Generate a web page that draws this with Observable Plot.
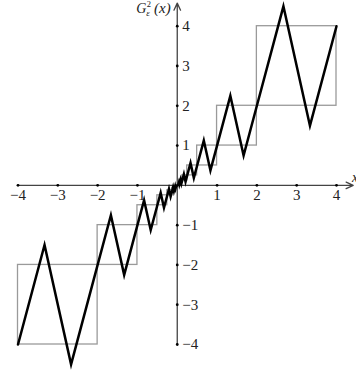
<!DOCTYPE html>
<html>
<head>
<meta charset="utf-8">
<script src="https://cdn.jsdelivr.net/npm/d3@7"></script>
<script src="https://cdn.jsdelivr.net/npm/@observablehq/plot@0.6"></script>
<style>
  html, body { margin: 0; padding: 0; background: white; }
  svg text { font-family: "Liberation Serif", "DejaVu Serif", serif; }
</style>
</head>
<body>
<div id="chart"></div>
<script>
// zigzag G_eps^2(x) vertices
const lineX = [-4, -3.3333, -2.6667, -2, -1.6667, -1.3333, -1, -0.8333, -0.6667, -0.5, -0.4167, -0.3333, -0.25, -0.2083, -0.1667, -0.125, -0.1042, -0.0833, -0.0625, -0.0521, -0.0417, -0.0313, 0,
               0.0313, 0.0417, 0.0521, 0.0625, 0.0833, 0.1042, 0.125, 0.1667, 0.2083, 0.25, 0.3333, 0.4167, 0.5, 0.6667, 0.8333, 1, 1.3333, 1.6667, 2, 2.6667, 3.3333, 4];
const lineY = [-4, -1.5, -4.5, -2, -0.75, -2.25, -1, -0.375, -1.125, -0.5, -0.1875, -0.5625, -0.25, -0.0938, -0.2813, -0.125, -0.0469, -0.1406, -0.0625, -0.0234, -0.0703, -0.0313, 0,
               0.0313, 0.0703, 0.0234, 0.0625, 0.1406, 0.0469, 0.125, 0.2813, 0.0938, 0.25, 0.5625, 0.1875, 0.5, 1.125, 0.375, 1, 2.25, 0.75, 2, 4.5, 1.5, 4];

// gray squares [lo, hi] x [lo, hi]
const boxLo = [0.0625, 0.125, 0.25, 0.5, 1, 2, -4, -2, -1, -0.5, -0.25, -0.125];
const boxHi = [0.125, 0.25, 0.5, 1, 2, 4, -2, -1, -0.5, -0.25, -0.125, -0.0625];

// axes
const axisX1 = [-4, 0];
const axisY1 = [0, -4];
const axisX2 = [4.42, 0];
const axisY2 = [0, 4.58];

// ticks
const xTicks = [-4, -3, -2, -1, 1, 2, 3, 4];
const xTickLabels = ["\u22124", "\u22123", "\u22122", "\u22121", "1", "2", "3", "4"];
const yTicks = [4, 3, 2, 1, -1, -2, -3, -4];
const yTickLabels = ["4", "3", "2", "1", "\u22121", "\u22122", "\u22123", "\u22124"];

const labelY = [4.32];
const xLabelPos = [4.39];

const font = "Liberation Serif";

const chart = Plot.plot({
  width: 356,
  height: 376,
  x: { domain: [-4, 4], range: [17.5, 336], axis: null },
  y: { domain: [-4, 4], range: [344, 25.7], axis: null },
  style: { background: "white", fontFamily: font, overflow: "visible" },
  marks: [
    Plot.rect(boxLo, { x1: boxLo, x2: boxHi, y1: boxLo, y2: boxHi, fill: "none", stroke: "#9a9a9a", strokeWidth: 1.3 }),
    Plot.arrow(axisX1, { x1: axisX1, y1: axisY1, x2: axisX2, y2: axisY2, stroke: "#444", strokeWidth: 1.3, headLength: 9, headAngle: 50 }),
    Plot.line(lineX, { x: lineX, y: lineY, stroke: "black", strokeWidth: 2.5, strokeLinejoin: "miter", strokeMiterlimit: 10, curve: "linear" }),
    Plot.dot(xTicks, { x: xTicks, y: 0, r: 1.4, fill: "black", stroke: null }),
    Plot.dot(yTicks, { x: 0, y: yTicks, r: 1.4, fill: "black", stroke: null }),
    Plot.text(xTicks, { x: xTicks, y: 0, text: xTickLabels, lineAnchor: "top", dy: 4, fontSize: 15, fontFamily: font, fill: "#222" }),
    Plot.text(yTicks, { x: 0, y: yTicks, text: yTickLabels, textAnchor: "start", dx: 5, fontSize: 15, fontFamily: font, fill: "#222" }),
    // y-axis label G_eps^2(x)
    Plot.text(labelY, { x: 0, y: labelY, text: ["G"], textAnchor: "start", lineAnchor: "bottom", dx: -41, fontSize: 14, fontFamily: font, fontStyle: "italic", fill: "#222" }),
    Plot.text(labelY, { x: 0, y: labelY, text: ["2"], textAnchor: "start", lineAnchor: "bottom", dx: -30.5, dy: -6, fontSize: 8.5, fontFamily: font, fill: "#222" }),
    Plot.text(labelY, { x: 0, y: labelY, text: ["\u03b5"], textAnchor: "start", lineAnchor: "bottom", dx: -31, dy: 3, fontSize: 9, fontFamily: font, fontStyle: "italic", fill: "#222" }),
    Plot.text(labelY, { x: 0, y: labelY, text: ["(x)"], textAnchor: "end", lineAnchor: "bottom", dx: -6.5, fontSize: 15, fontFamily: font, fontStyle: "italic", fill: "#222" }),
    // x-axis label
    Plot.text(xLabelPos, { x: xLabelPos, y: 0, text: ["x"], textAnchor: "start", lineAnchor: "bottom", dy: -3, fontSize: 14, fontFamily: font, fontStyle: "italic", fill: "#222" })
  ]
});
document.getElementById("chart").appendChild(chart);
</script>
</body>
</html>
